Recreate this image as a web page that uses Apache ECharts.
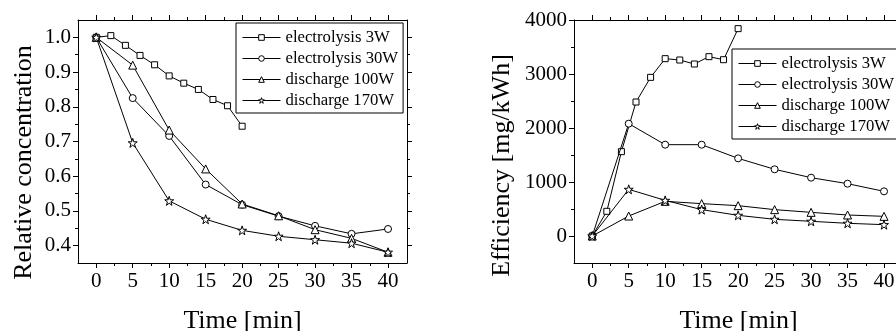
<!DOCTYPE html>
<html>
<head>
<meta charset="utf-8">
<script src="https://cdn.jsdelivr.net/npm/echarts@6/dist/echarts.min.js"></script>
<style>
  html, body { margin: 0; padding: 0; background: #fff; }
  #chart { width: 896px; height: 331px; }
</style>
</head>
<body>
<div id="chart"></div>
<script>
// sampling times
const timeShort = [0, 2, 4, 6, 8, 10, 12, 14, 16, 18, 20];
const timeLong = [0, 5, 10, 15, 20, 25, 30, 35, 40];
const seriesNames = ['electrolysis 3W', 'electrolysis 30W', 'discharge 100W', 'discharge 170W'];

// left panel: relative concentration
const conc3W = [1.0, 1.005, 0.977, 0.948, 0.921, 0.889, 0.868, 0.850, 0.821, 0.803, 0.744];
const conc30W = [1.0, 0.825, 0.716, 0.576, 0.518, 0.485, 0.457, 0.434, 0.448];
const conc100W = [1.0, 0.920, 0.733, 0.621, 0.520, 0.486, 0.446, 0.421, 0.381];
const conc170W = [1.0, 0.696, 0.529, 0.476, 0.444, 0.427, 0.417, 0.407, 0.381];

// right panel: efficiency mg/kWh
const eff3W = [0, 457, 1562, 2481, 2938, 3284, 3259, 3185, 3321, 3265, 3840];
const eff30W = [0, 2080, 1691, 1691, 1438, 1235, 1080, 969, 827];
const eff100W = [0, 370, 642, 599, 562, 488, 438, 389, 364];
const eff170W = [0, 864, 660, 488, 383, 309, 272, 235, 210];

// tick labels
const timeTicks = [0, 5, 10, 15, 20, 25, 30, 35, 40];
const timeMinor = [2.5, 7.5, 12.5, 17.5, 22.5, 27.5, 32.5, 37.5];
const concTicks = [0.4, 0.5, 0.6, 0.7, 0.8, 0.9, 1.0];
const concMinor = [0.45, 0.55, 0.65, 0.75, 0.85, 0.95];
const effTicks = [0, 1000, 2000, 3000, 4000];
const effMinor = [500, 1500, 2500, 3500];

const serif = "'Liberation Serif', serif";
const black = '#000';
const starPath = 'path://M50,0 L61.8,35.1 L98.9,35.1 L68.9,56.8 L80.3,91.9 L50,70.2 L19.7,91.9 L31.1,56.8 L1.1,35.1 L38.2,35.1 Z';
const symbols = [['rect', 6], ['circle', 7], ['triangle', 8], [starPath, 9]];

function pairs(xs, ys) { return xs.map((x, i) => [x, ys[i]]); }

// one axis of the frame; main ones carry the line and labels, the others add minor ticks
function axis(gi, pos, range, ticks, len, main, label, extra) {
  return Object.assign({
    type: 'value', gridIndex: gi, position: pos, min: range[0], max: range[1],
    axisLine: { show: main, onZero: false, lineStyle: { color: black, width: 1 } },
    axisTick: { show: true, inside: false, length: len, customValues: ticks, lineStyle: { color: black, width: 1 } },
    axisLabel: label ? Object.assign({ show: true, customValues: ticks, color: black, fontFamily: serif, fontSize: 21 }, label) : { show: false },
    splitLine: { show: false }
  }, extra || {});
}

const xRange = [-2.5, 42.6];
const nameStyle = { color: black, fontFamily: serif, fontSize: 26 };

function xAxesFor(gi) {
  return [
    axis(gi, 'bottom', xRange, timeTicks, 5, true, { margin: 8, formatter: v => String(v) },
      { name: 'Time [min]', nameLocation: 'middle', nameGap: 45, nameTextStyle: nameStyle }),
    axis(gi, 'bottom', xRange, timeMinor, 3, false),
    axis(gi, 'top', xRange, timeTicks, 5, true),
    axis(gi, 'top', xRange, timeMinor, 3, false)
  ];
}

const xAxes = xAxesFor(0).concat(xAxesFor(1));
const yAxes = [
  axis(0, 'left', [0.35, 1.05], concTicks, 5, true, { margin: 7, formatter: v => v.toFixed(1) },
    { name: 'Relative concentration', nameLocation: 'middle', nameGap: 41,
      nameTextStyle: Object.assign({ padding: [0, 42, 0, 0] }, nameStyle) }),
  axis(0, 'left', [0.35, 1.05], concMinor, 3, false),
  axis(0, 'right', [0.35, 1.05], concTicks, 5, true),
  axis(0, 'right', [0.35, 1.05], concMinor, 3, false),
  axis(1, 'left', [-500, 4000], effTicks, 5, true, { margin: 7, formatter: v => String(v) },
    { name: 'Efficiency [mg/kWh]', nameLocation: 'middle', nameGap: 59,
      nameTextStyle: Object.assign({ padding: [0, 48, 0, 0] }, nameStyle) }),
  axis(1, 'left', [-500, 4000], effMinor, 3, false),
  axis(1, 'right', [-500, 4000], effTicks, 5, true),
  axis(1, 'right', [-500, 4000], effMinor, 3, false)
];

function lineSeries(idx, gi, xs, ys) {
  return {
    name: seriesNames[idx], type: 'line',
    xAxisIndex: gi * 4, yAxisIndex: gi * 4,
    data: pairs(xs, ys),
    symbol: symbols[idx][0], symbolSize: symbols[idx][1],
    lineStyle: { color: black, width: 1 },
    itemStyle: { color: '#fff', borderColor: black, borderWidth: 1 },
    emphasis: { disabled: true },
    z: 2 + idx
  };
}

function legendAt(left, top) {
  return {
    orient: 'vertical', left: left, top: top,
    data: seriesNames,
    itemWidth: 38, itemHeight: 7, itemGap: 4,
    padding: [6, 5, 4, 6],
    backgroundColor: '#fff', borderColor: black, borderWidth: 1,
    selectedMode: false,
    itemStyle: { color: '#fff', borderColor: black, borderWidth: 1 },
    lineStyle: { color: black, width: 1 },
    textStyle: { color: black, fontFamily: serif, fontSize: 16.7, lineHeight: 16 }
  };
}

const chart = echarts.init(document.getElementById('chart'));
chart.setOption({
  animation: false,
  backgroundColor: '#fff',
  grid: [
    { left: 78, top: 20, width: 329, height: 243, outerBoundsMode: 'none' },
    { left: 574, top: 20, width: 329, height: 243, outerBoundsMode: 'none' }
  ],
  legend: [legendAt(732, 49), legendAt(236, 23)],
  xAxis: xAxes,
  yAxis: yAxes,
  series: [
    lineSeries(0, 0, timeShort, conc3W),
    lineSeries(1, 0, timeLong, conc30W),
    lineSeries(2, 0, timeLong, conc100W),
    lineSeries(3, 0, timeLong, conc170W),
    lineSeries(0, 1, timeShort, eff3W),
    lineSeries(1, 1, timeLong, eff30W),
    lineSeries(2, 1, timeLong, eff100W),
    lineSeries(3, 1, timeLong, eff170W)
  ]
});
</script>
</body>
</html>
